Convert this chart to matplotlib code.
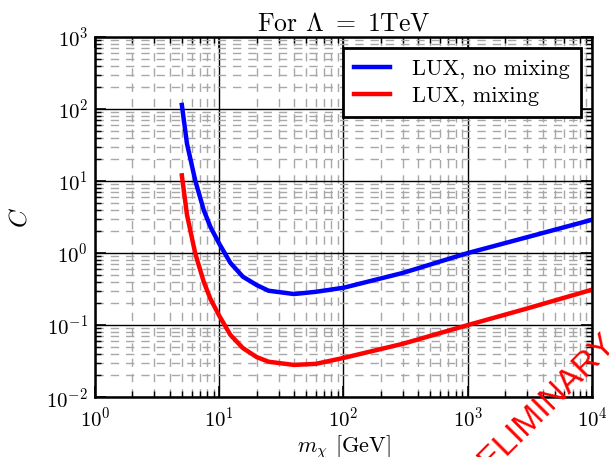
import matplotlib
matplotlib.use("Agg")
import matplotlib.pyplot as plt
from matplotlib.ticker import LogLocator, NullFormatter

plt.rcParams['mathtext.fontset'] = 'cm'
plt.rcParams['font.family'] = ['cmr10', 'DejaVu Serif']
plt.rcParams['axes.formatter.use_mathtext'] = True

# data
mass = [5, 5.5, 6.4, 7.5, 8.5, 10, 12.3, 15.5, 20, 25, 40, 60, 100, 300, 1000, 3000, 10000]
c_no_mixing = [114, 33, 10.3, 3.95, 2.3, 1.35, 0.73, 0.47, 0.36, 0.30, 0.27, 0.29, 0.33, 0.53, 1.0, 1.66, 2.9]
c_mixing = [12, 3.4, 1.0, 0.40, 0.23, 0.135, 0.073, 0.048, 0.036, 0.031, 0.028, 0.029, 0.035, 0.055, 0.10, 0.17, 0.31]
labels = ["LUX, no mixing", "LUX, mixing"]

fig = plt.figure(figsize=(6.09, 4.57), dpi=100)
ax = fig.add_axes([0.156, 0.131, 0.816, 0.788])

ax.plot(mass, c_no_mixing, color='blue', lw=3.2, label=labels[0])
ax.plot(mass, c_mixing, color='red', lw=3.2, label=labels[1])

ax.set_xscale('log')
ax.set_yscale('log')
ax.set_xlim(1, 1e4)
ax.set_ylim(1e-2, 1e3)

ax.xaxis.set_major_locator(LogLocator(base=10, numticks=20))
ax.yaxis.set_major_locator(LogLocator(base=10, numticks=20))
ax.xaxis.set_minor_locator(LogLocator(base=10, subs=range(2, 10), numticks=20))
ax.yaxis.set_minor_locator(LogLocator(base=10, subs=range(2, 10), numticks=20))
ax.xaxis.set_minor_formatter(NullFormatter())
ax.yaxis.set_minor_formatter(NullFormatter())

ax.grid(which='major', color='black', linestyle='-', lw=1.0)
ax.grid(which='minor', color='#a8a8a8', linestyle=(0, (6, 5)), lw=1.0)
ax.set_axisbelow(True)

ax.tick_params(which='both', direction='in', top=True, right=True, labelsize=15)
ax.tick_params(axis='x', pad=7)
ax.tick_params(axis='y', pad=5)
ax.tick_params(which='major', length=8, width=1.2)
ax.tick_params(which='minor', length=4, width=1.0)
for s in ax.spines.values():
    s.set_linewidth(1.8)

ax.set_title(r'For $\Lambda\ =\ 1$TeV', fontsize=18.5, pad=5)
ax.set_xlabel(r'$m_\chi$ [GeV]', fontsize=16, labelpad=1)
ax.set_ylabel(r'$C$', fontsize=18, labelpad=11)

leg = ax.legend(loc='upper right', fontsize=16, fancybox=False, framealpha=1,
                edgecolor='black', handlelength=1.6, borderpad=0.5, labelspacing=0.3,
                handletextpad=1.0)
leg.get_frame().set_linewidth(2)

fig.text(0.872, 0.084, 'PRELIMINARY', color='red', fontsize=24, family='Liberation Sans',
         rotation=45, ha='center', va='center', rotation_mode='anchor')

fig.savefig('out.png', dpi=100)
